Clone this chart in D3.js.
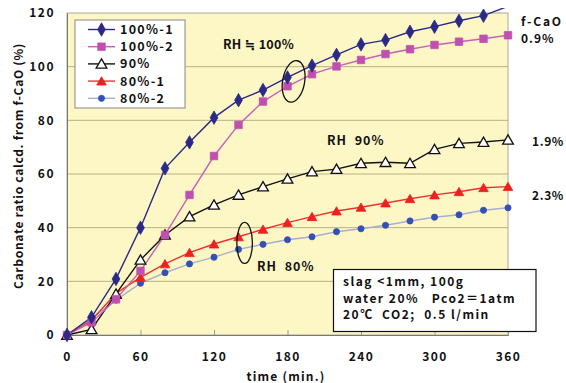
<!DOCTYPE html>
<html><head><meta charset="utf-8">
<script src="https://cdn.jsdelivr.net/npm/d3@7"></script>
<style>
body{margin:0;background:#fff;}
text{font-family:"Noto Sans CJK JP","DejaVu Sans",sans-serif;font-weight:700;fill:#111;}
</style></head>
<body><svg id="c" width="566" height="383"></svg>
<script>
const times = [0,20,40,60,80,100,120,140,160,180,200,220,240,260,280,300,320,340,360];
const rh100_1 = [0,6.6,20.9,40,62.1,71.8,81,87.5,91.3,96.0,100.4,104.4,108.3,109.9,113,114.9,117.1,119,122.5];
const rh100_2 = [0,4.7,13.3,23.9,37.3,52.2,66.7,78.3,87.0,92.7,97.2,100.1,102.5,104.7,106.5,108.1,109.3,110.4,111.7];
const rh90    = [0,2.1,15.3,28,37.3,44.1,48.5,52.2,55.3,58.2,60.9,61.8,64.0,64.4,64.0,69.2,71.4,71.9,72.7];
const rh80_1  = [0,5.5,15.5,21.5,26.5,30.7,33.9,36.6,39.4,41.9,44.1,46.2,47.6,49.2,50.8,52.2,53.4,54.9,55.3];
const rh80_2  = [0,6.2,13.0,19.3,23.2,26.5,29.0,31.9,33.8,35.5,36.6,38.5,39.6,40.9,42.5,43.9,44.8,46.5,47.4];
const seriesNames = ["100%-1","100%-2","90%","80%-1","80%-2"];
const xTicks = [0,60,120,180,240,300,360];
const yTicks = [0,20,40,60,80,100,120];
const fCaOLabels = ["0.9%","1.9%","2.3%"];
const infoLines = ["slag <1mm, 100g","water 20%   Pco2＝1atm","20℃  CO2;  0.5 l/min"];

const series = [
  {name:seriesNames[0], data:rh100_1, line:"#2a2a86", fill:"#2a2a86", stroke:"#2a2a86", shape:"diamond", size:52},
  {name:seriesNames[1], data:rh100_2, line:"#c860b8", fill:"#c050b0", stroke:"#c050b0", shape:"square", size:56},
  {name:seriesNames[2], data:rh90, line:"#111", fill:"#fff", stroke:"#111", shape:"triangle", size:50},
  {name:seriesNames[3], data:rh80_1, line:"#f03030", fill:"#ee2020", stroke:"#ee2020", shape:"triangle", size:40},
  {name:seriesNames[4], data:rh80_2, line:"#a8aed0", fill:"#3350b8", stroke:"#3350b8", shape:"circle", size:30}
];
const shapes = {diamond:d3.symbolDiamond, square:d3.symbolSquare, triangle:d3.symbolTriangle, circle:d3.symbolCircle};

const svg = d3.select("#c");
const L=67, R=508, T=13, B=335;
const x = d3.scaleLinear().domain([0,360]).range([L,R]);
const y = d3.scaleLinear().domain([0,120]).range([B,T]);

svg.append("rect").attr("x",L).attr("y",T).attr("width",R-L).attr("height",B-T).attr("fill","#fdf7c6");
svg.append("g").selectAll("line").data(yTicks.slice(1,-1)).join("line")
  .attr("x1",L).attr("x2",R).attr("y1",d=>y(d)).attr("y2",d=>y(d))
  .attr("stroke","#b9b185").attr("stroke-width",1);
svg.append("rect").attr("x",L).attr("y",T).attr("width",R-L).attr("height",B-T)
  .attr("fill","none").attr("stroke","#a8a8a0").attr("stroke-width",1);

const xa = svg.append("g").attr("transform",`translate(0,${B})`)
  .call(d3.axisBottom(x).tickValues(xTicks).tickSize(-5).tickPadding(17));
const ya = svg.append("g").attr("transform",`translate(${L},0)`)
  .call(d3.axisLeft(y).tickValues(yTicks).tickSize(0).tickPadding(12));
[xa,ya].forEach(a=>{
  a.select(".domain").attr("stroke","#777");
  a.selectAll(".tick line").attr("stroke","#999");
  a.selectAll("text").attr("font-size",12).attr("letter-spacing","1.5px")
   .style("font-family",'"Noto Sans CJK JP",sans-serif').style("font-weight",700).attr("fill","#111");
});
ya.selectAll(".tick").filter(d=>d===0||d===120).select("line").remove();

svg.append("text").attr("transform",`translate(23,166) rotate(-90)`).attr("text-anchor","middle")
  .attr("font-size",12).attr("letter-spacing","0.7px").text("Carbonate ratio calcd. from f-CaO (%)");
svg.append("text").attr("x",286).attr("y",381).attr("text-anchor","middle")
  .attr("font-size",12).attr("letter-spacing","1.2px").text("time (min.)");

svg.append("clipPath").attr("id","clip").append("rect")
  .attr("x",L-10).attr("y",y(120)-5).attr("width",R-L+20).attr("height",B-T+15);

const plot = svg.append("g").attr("clip-path","url(#clip)");
const line = d3.line().x((d,i)=>x(times[i])).y(d=>y(d));
const order = [4,3,2,1,0];
order.forEach(k=>{
  const s = series[k];
  plot.append("path").datum(s.data).attr("d",line).attr("fill","none")
    .attr("stroke",s.line).attr("stroke-width",1.4);
});
order.forEach(k=>{
  const s = series[k];
  const pts = s.data.map((v,i)=>({t:times[i],v})).filter(p=>p.v<=120);
  plot.append("g").selectAll("path").data(pts).join("path")
    .attr("transform",p=>`translate(${x(p.t)},${y(p.v)+(s.shape==="triangle"?1.2:0)})`)
    .attr("d",d3.symbol().type(shapes[s.shape]).size(s.size))
    .attr("fill",s.fill).attr("stroke",s.stroke).attr("stroke-width",s.shape==="triangle"&&k===2?1.3:0.8);
});

const lg = svg.append("g");
lg.append("rect").attr("x",75).attr("y",20).attr("width",110).attr("height",88)
  .attr("fill","#fff").attr("stroke","#888").attr("stroke-width",1);
series.forEach((s,i)=>{
  const yy = 29.5 + i*17.2;
  lg.append("line").attr("x1",88).attr("x2",115).attr("y1",yy).attr("y2",yy)
    .attr("stroke",s.line).attr("stroke-width",1.4);
  lg.append("path").attr("transform",`translate(101.5,${yy+(s.shape==="triangle"?1.2:0)})`)
    .attr("d",d3.symbol().type(shapes[s.shape]).size(s.size))
    .attr("fill",s.fill).attr("stroke",s.stroke).attr("stroke-width",i===2?1.3:0.8);
  lg.append("text").attr("x",120).attr("y",yy+4.5).attr("font-size",12.5)
    .attr("letter-spacing","1.3px").text(s.name);
});

const ann = [
  {t:"RH ≒ 100%", x:223, y:49, ls:"0.3px"},
  {t:"RH  90%", x:327, y:145, ls:"1px"},
  {t:"RH  80%", x:257, y:271, ls:"1px"}
];
ann.forEach(a=>svg.append("text").attr("x",a.x).attr("y",a.y).attr("font-size",12.5)
  .attr("letter-spacing",a.ls).attr("xml:space","preserve").text(a.t));

svg.append("ellipse").attr("cx",0).attr("cy",0).attr("rx",11).attr("ry",21)
  .attr("transform",`translate(${x(185)},${y(94.5)}) rotate(10)`)
  .attr("fill","none").attr("stroke","#111").attr("stroke-width",1.3);
svg.append("ellipse").attr("cx",0).attr("cy",0).attr("rx",7.8).attr("ry",20.5)
  .attr("transform",`translate(${x(145)},${y(34.3)})`)
  .attr("fill","none").attr("stroke","#111").attr("stroke-width",1.3);

const rl = [
  {t:"f-CaO", x:521, y:26, ls:"1.8px"},
  {t:fCaOLabels[0], x:521, y:43, ls:"1px"},
  {t:fCaOLabels[1], x:532, y:146, ls:"0.6px"},
  {t:fCaOLabels[2], x:532, y:200, ls:"0.6px"}
];
rl.forEach(r=>svg.append("text").attr("x",r.x).attr("y",r.y).attr("font-size",12)
  .attr("letter-spacing",r.ls).text(r.t));

svg.append("rect").attr("x",333.5).attr("y",269.5).attr("width",202.5).attr("height",62)
  .attr("fill","#fff").attr("stroke","#111").attr("stroke-width",1.2);
infoLines.forEach((t,i)=>svg.append("text").attr("x",343).attr("y",286+i*16.6)
  .attr("font-size",12).attr("letter-spacing","1.5px").attr("xml:space","preserve").text(t));
</script></body></html>
